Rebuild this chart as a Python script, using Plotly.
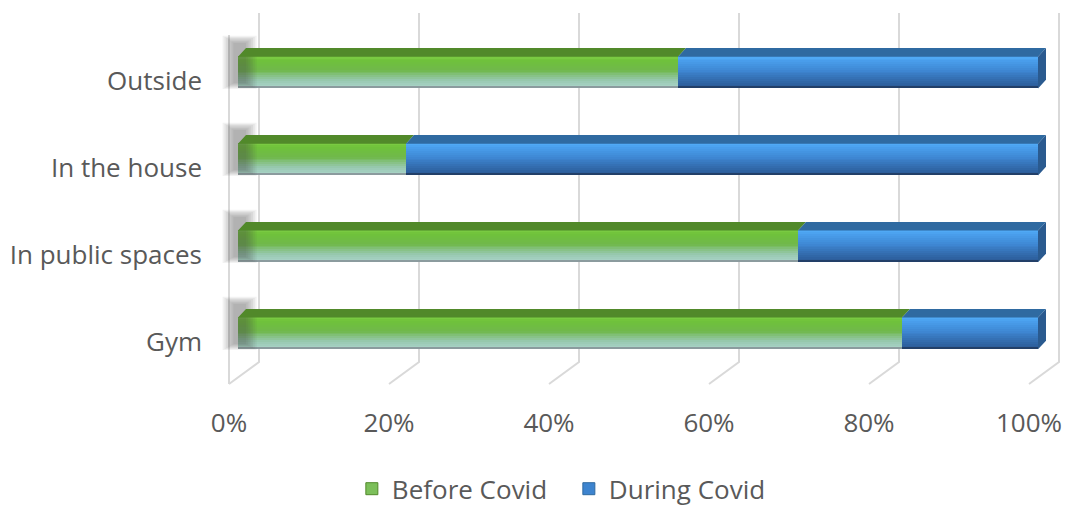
import plotly.graph_objects as go

# ---- data -------------------------------------------------------------
categories = ["Gym", "In public spaces", "In the house", "Outside"]
before_covid = [83, 70, 21, 55]
during_covid = [17, 30, 79, 45]
x_tick_values = [0, 20, 40, 60, 80, 100]
series_names = ["Before Covid", "During Covid"]

# ---- styling ------------------------------------------------------------
TEXT = "#595959"
GRID = "#d9d9d9"
FONT = "Open Sans"

# front-face gradients, top (0) to bottom (1)
GREEN_STOPS = [(0.0, "#7ccd45"), (0.12, "#6fc23a"), (0.45, "#70b84b"),
               (0.8, "#98c9b2"), (1.0, "#a9d3c6")]
BLUE_STOPS = [(0.0, "#52acf8"), (0.12, "#4aa0ee"), (0.5, "#3d84cf"),
              (0.85, "#3066a6"), (1.0, "#2c5c98")]
SERIES_STYLE = [
    dict(stops=GREEN_STOPS, top="#51892a", edge="#8b9b9e", legend="#7cbf5a"),
    dict(stops=BLUE_STOPS, top="#2f6aa1", edge="#223f68", legend="#3d84cf"),
]
SIDE_BLUE = "#2a5a8f"

# bar geometry (category units / axis fractions)
FACE_LO, FACE_HI = -0.085, 0.28      # front face relative to the category tick
EDGE_H = 0.022                        # dark bottom edge of the front face
TOP_DY, TOP_DX = 0.10, 0.010          # bevel of the top face
N_STRIPS = 16

# wall / floor geometry of the 3-D frame
WALL_TOP, WALL_BOTTOM, FLOOR_FRONT = 3.782, -0.230, -0.483
LEFT_WALL_TOP = 3.529
DEPTH_DX = 0.0375


def hex_to_rgb(h):
    h = h.lstrip("#")
    return tuple(int(h[i:i + 2], 16) for i in (0, 2, 4))


def gradient_color(stops, t):
    for (p0, c0), (p1, c1) in zip(stops[:-1], stops[1:]):
        if p0 <= t <= p1:
            f = 0 if p1 == p0 else (t - p0) / (p1 - p0)
            a, b = hex_to_rgb(c0), hex_to_rgb(c1)
            r = [round(a[k] + (b[k] - a[k]) * f) for k in range(3)]
            return "rgb({},{},{})".format(*r)
    return stops[-1][1]


positions = list(range(len(categories)))
totals = [b + d for b, d in zip(before_covid, during_covid)]
shares = [
    [b / t for b, t in zip(before_covid, totals)],
    [d / t for d, t in zip(during_covid, totals)],
]
starts = [[0.0] * len(categories), shares[0][:]]

fig = go.Figure()

# ---- 3-D frame: back wall gridlines, floor edges, left wall edge --------
gx, gy = [], []
for v in x_tick_values:
    f = v / 100
    gx += [f + DEPTH_DX, f + DEPTH_DX, f, None]
    gy += [WALL_TOP, WALL_BOTTOM, FLOOR_FRONT, None]
gx += [0, 0, None]
gy += [LEFT_WALL_TOP, FLOOR_FRONT, None]
fig.add_trace(go.Scatter(x=gx, y=gy, mode="lines", xaxis="x", yaxis="y",
                         line=dict(color=GRID, width=2), hoverinfo="skip",
                         showlegend=False))

# ---- soft shadow behind the left end of each bar ------------------------
for i in range(7):
    grow = i * 0.0022
    sx, sy = [], []
    for p in positions:
        x0, x1 = -0.006 - grow, 0.010 + grow
        y0 = p + FACE_LO + 0.06 - grow * 5
        y1 = p + FACE_HI + TOP_DY + 0.06 + grow * 6
        sx += [x0, x1, x1, x0, x0, None]
        sy += [y0, y0, y1, y1, y0, None]
    fig.add_trace(go.Scatter(x=sx, y=sy, mode="lines", fill="toself",
                             fillcolor="rgba(70,70,70,0.07)",
                             line=dict(width=0), xaxis="x2", yaxis="y",
                             hoverinfo="skip", showlegend=False))

# ---- front faces: stacked bars built from gradient strips ---------------
strip_h = (FACE_HI - FACE_LO - EDGE_H) / N_STRIPS
for s, style in enumerate(SERIES_STYLE):
    # dark bottom edge
    fig.add_trace(go.Bar(
        y=positions, x=shares[s], base=starts[s], orientation="h",
        offset=FACE_LO, width=EDGE_H + 0.004,
        marker=dict(color=style["edge"], line=dict(width=0)),
        xaxis="x2", yaxis="y", hoverinfo="skip", showlegend=False))
    for k in range(N_STRIPS):
        t = 1 - (k + 0.5) / N_STRIPS
        fig.add_trace(go.Bar(
            y=positions, x=shares[s], base=starts[s], orientation="h",
            offset=FACE_LO + EDGE_H + k * strip_h, width=strip_h * 1.15,
            marker=dict(color=gradient_color(style["stops"], t), line=dict(width=0)),
            xaxis="x2", yaxis="y", name=series_names[s],
            legendgroup=series_names[s], showlegend=False,
            hovertemplate="%{y}: %{x:.0%}<extra>" + series_names[s] + "</extra>"))
    # legend entry
    fig.add_trace(go.Bar(
        y=[None], x=[None], orientation="h", name=series_names[s],
        legendgroup=series_names[s], xaxis="x2", yaxis="y",
        marker=dict(color=style["legend"], line=dict(color=style["top"], width=1))))

# ---- top faces of the bars ----------------------------------------------
for s, style in enumerate(SERIES_STYLE):
    tx, ty = [], []
    for p, x0, w in zip(positions, starts[s], shares[s]):
        x1 = x0 + w
        yb, yt = p + FACE_HI, p + FACE_HI + TOP_DY
        tx += [x0, x1, x1 + TOP_DX, x0 + TOP_DX, x0, None]
        ty += [yb, yb, yt, yt, yb, None]
    fig.add_trace(go.Scatter(x=tx, y=ty, mode="lines", fill="toself",
                             fillcolor=style["top"], line=dict(width=0),
                             xaxis="x2", yaxis="y", hoverinfo="skip",
                             showlegend=False))

# ---- right-hand end caps of the stacked bars ------------------------------
ex, ey = [], []
for p, x0, w in zip(positions, starts[1], shares[1]):
    x1 = x0 + w
    y0, y1 = p + FACE_LO, p + FACE_HI
    ex += [x1, x1, x1 + TOP_DX, x1 + TOP_DX, x1, None]
    ey += [y0, y1, y1 + TOP_DY, y0 + TOP_DY, y0, None]
fig.add_trace(go.Scatter(x=ex, y=ey, mode="lines", fill="toself",
                         fillcolor=SIDE_BLUE, line=dict(width=0),
                         xaxis="x2", yaxis="y", hoverinfo="skip",
                         showlegend=False))

# ---- layout ---------------------------------------------------------------
fig.update_layout(
    width=1065, height=508, autosize=False,
    margin=dict(l=215, r=0, t=0, b=108, autoexpand=False),
    paper_bgcolor="white", plot_bgcolor="white",
    barmode="overlay", bargap=0,
    font=dict(family=FONT, size=26, color=TEXT),
    xaxis=dict(range=[-0.0175, 1.045], tickvals=[v / 100 for v in x_tick_values],
               tickformat=".0%", showgrid=False, zeroline=False, showline=False,
               ticks="", ticklabelstandoff=5, fixedrange=True, automargin=False),
    xaxis2=dict(range=[-0.02875, 1.03375], overlaying="x", anchor="y",
                visible=False, fixedrange=True),
    yaxis=dict(range=[-0.667, 3.931], tickvals=positions, ticktext=categories,
               showgrid=False, zeroline=False, showline=False, ticks="",
               ticklabelstandoff=12, fixedrange=True, automargin=False),
    legend=dict(orientation="h", x=0.161, xanchor="left", y=-0.222,
                yanchor="middle", font=dict(size=26, color=TEXT),
                entrywidth=172, entrywidthmode="pixels",
                bgcolor="rgba(0,0,0,0)", traceorder="normal"),
)

fig.write_html("out.html")
